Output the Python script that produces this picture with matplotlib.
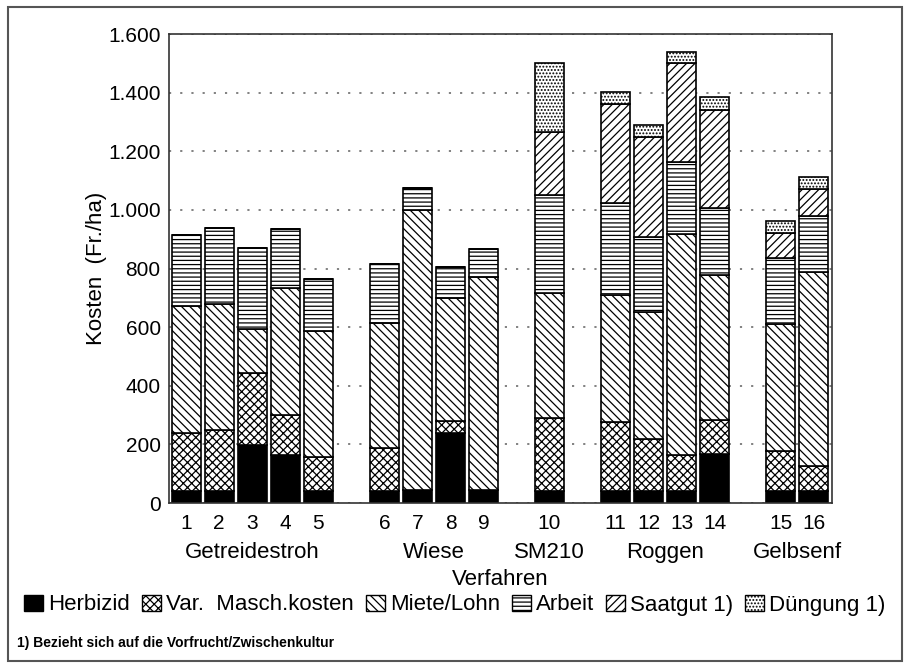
import numpy as np
import matplotlib.pyplot as plt
from matplotlib.patches import Patch, Rectangle

plt.rcParams['font.family'] = ['Liberation Sans', 'DejaVu Sans']
plt.rcParams['hatch.linewidth'] = 0.9

# bar labels and positions of the groups
bar_labels = [str(i) for i in range(1, 17)]
groups = ['Getreidestroh', 'Wiese', 'SM210', 'Roggen', 'Gelbsenf']
group_sizes = [5, 4, 1, 4, 2]

# cost components, Fr./ha
herbizid = [40, 40, 198, 164, 40, 40, 45, 239, 45, 40, 40, 40, 40, 167, 40, 40]
masch = [200, 210, 245, 135, 117, 148, 0, 41, 0, 250, 236, 178, 124, 116, 137, 86]
miete = [432, 429, 151, 435, 430, 426, 955, 420, 726, 426, 434, 433, 754, 495, 434, 662]
arbeit = [242, 259, 276, 201, 177, 201, 75, 105, 96, 335, 314, 257, 245, 228, 225, 191]
saatgut = [0, 0, 0, 0, 0, 0, 0, 0, 0, 215, 337, 341, 338, 335, 85, 92]
duengung = [0, 0, 0, 0, 0, 0, 0, 0, 0, 235, 42, 41, 38, 44, 41, 41]

series = [
    ('Herbizid', herbizid, 'black', None),
    ('Var.  Masch.kosten', masch, 'white', 'xxxx'),
    ('Miete/Lohn', miete, 'white', '\\\\\\\\'),
    ('Arbeit', arbeit, 'white', '----'),
    ('Saatgut 1)', saatgut, 'white', '////'),
    ('Düngung 1)', duengung, 'white', '.....'),
]

# x positions: one empty slot between groups
pos = []
x = 1
for n in group_sizes:
    for _ in range(n):
        pos.append(x)
        x += 1
    x += 1
pos = np.array(pos)

fig = plt.figure(figsize=(9.1, 6.63), dpi=100)
ax = fig.add_axes([0.1857, 0.2413, 0.7286, 0.7074])

bottom = np.zeros(len(pos))
handles = []
for name, vals, fc, hatch in series:
    vals = np.array(vals, dtype=float)
    ax.bar(pos, vals, 0.87, bottom=bottom, color=fc, edgecolor='black',
           hatch=hatch, linewidth=1.2, zorder=2)
    bottom += vals
    handles.append(Patch(facecolor=fc, edgecolor='black', hatch=hatch,
                         linewidth=1.0, label=name))

ax.set_xlim(0.48, 20.55)
ax.set_ylim(0, 1600)
ax.set_yticks(range(0, 1601, 200))
ax.set_yticklabels([f'{v:,}'.replace(',', '.') for v in range(0, 1601, 200)])
ax.set_xticks(pos)
ax.set_xticklabels(bar_labels)
ax.tick_params(length=0, labelsize=15)
ax.tick_params(axis='y', pad=6)
ax.tick_params(axis='x', pad=8)
ax.set_axisbelow(True)
ax.yaxis.grid(True, linestyle=(0, (1.2, 5)), color='#777777', linewidth=1.3)
for s in ax.spines.values():
    s.set_linewidth(1.2)
    s.set_color('#333333')

ax.set_ylabel('Kosten  (Fr./ha)', fontsize=16, labelpad=1)

# group names under the numbers
start = 0
for g, n in zip(groups, group_sizes):
    c = pos[start:start + n].mean()
    ax.text(c, (503 - 552) / 469, g, transform=ax.get_xaxis_transform(),
            ha='center', va='center', fontsize=16)
    start += n
ax.text(0.5, (503 - 579) / 469, 'Verfahren', transform=ax.transAxes,
        ha='center', va='center', fontsize=16)

fig.legend(handles=handles, loc='center', bbox_to_anchor=(455 / 910, 1 - 605 / 663),
           ncol=6, frameon=False, fontsize=16, handlelength=0.85,
           handleheight=0.75, handletextpad=0.22, columnspacing=0.55,
           borderaxespad=0)

fig.text(17 / 910, 1 - 643 / 663, '1) Bezieht sich auf die Vorfrucht/Zwischenkultur',
         fontsize=10, fontweight='bold', va='center', ha='left')

fig.patches.append(Rectangle((8 / 910, 2 / 663), 894 / 910, 654 / 663,
                             transform=fig.transFigure, fill=False,
                             edgecolor='#555555', linewidth=1.5))

fig.savefig('out.png', dpi=100)
